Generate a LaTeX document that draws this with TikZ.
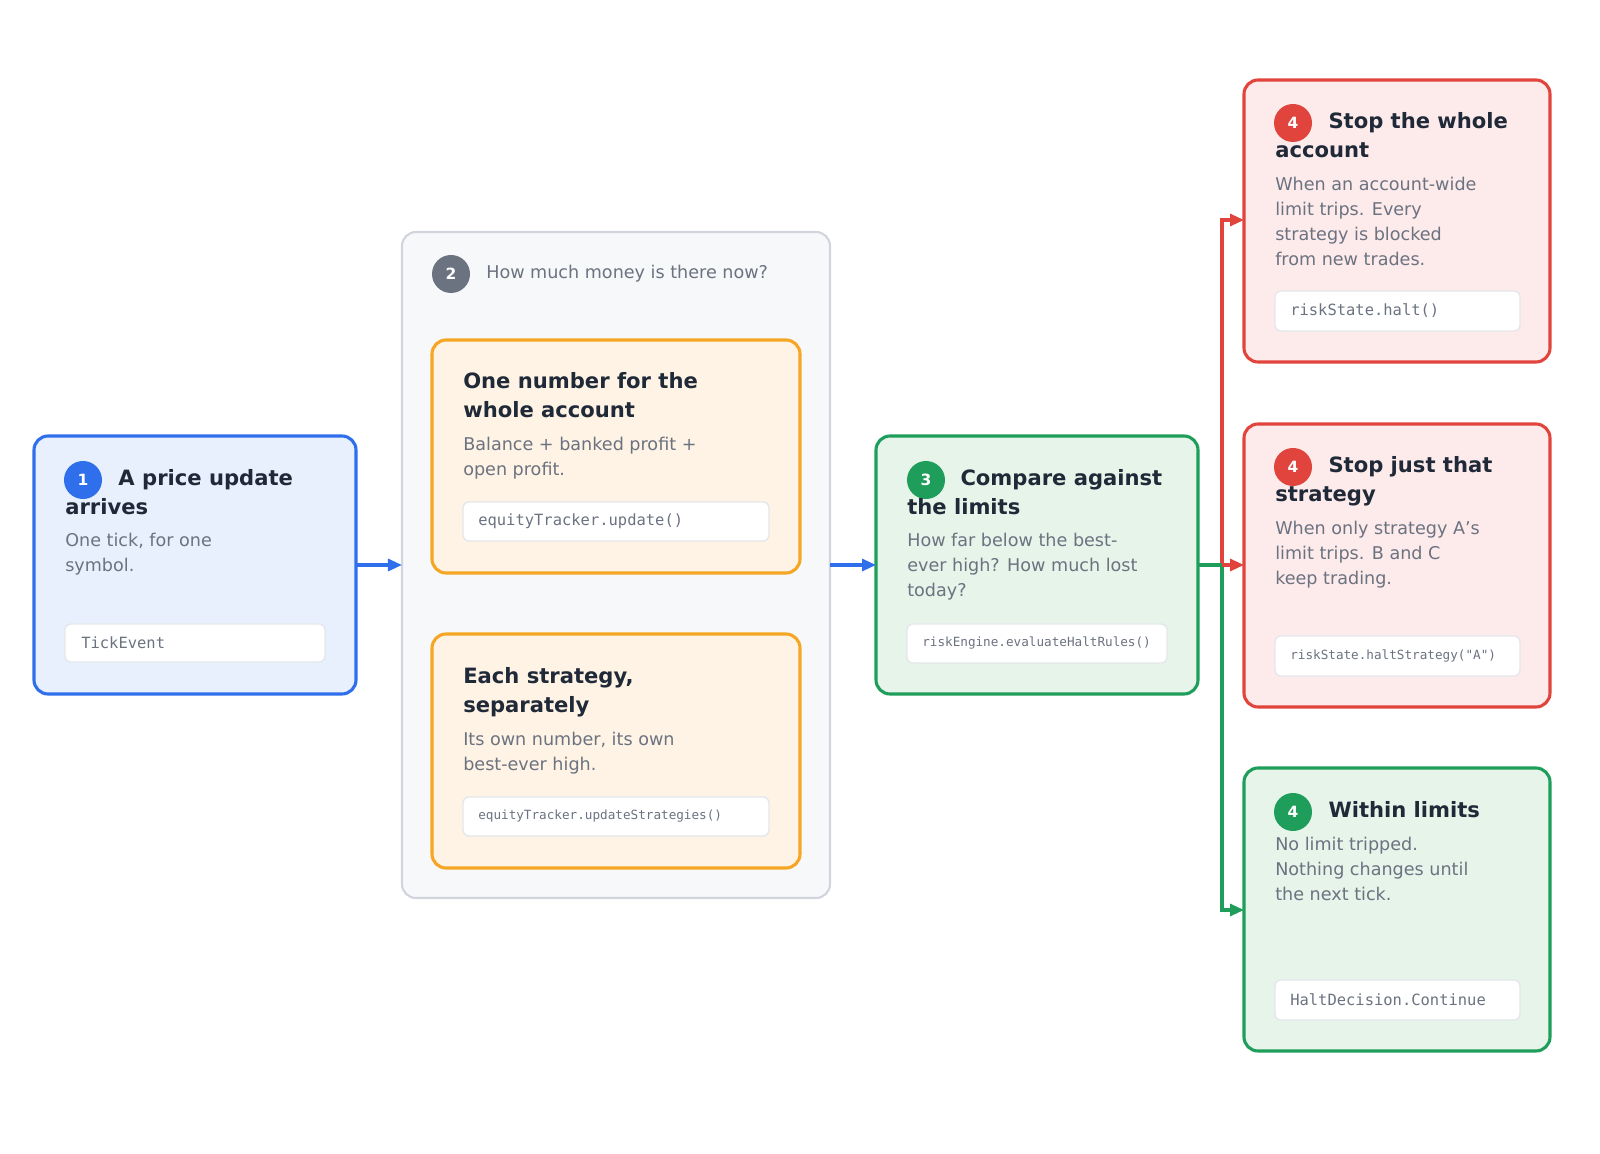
\documentclass[tikz,border=0pt]{standalone}
\usepackage{fontspec}
\setmainfont{DejaVu Sans}
\setmonofont{DejaVu Sans Mono}
\usetikzlibrary{arrows.meta}
\definecolor{tickblue}{HTML}{2F6FEB}
\definecolor{tickfill}{HTML}{E8F0FD}
\definecolor{eqorange}{HTML}{F5A623}
\definecolor{eqfill}{HTML}{FEF3E5}
\definecolor{okgreen}{HTML}{1E9E5A}
\definecolor{okfill}{HTML}{E6F4EA}
\definecolor{haltred}{HTML}{E0443C}
\definecolor{haltfill}{HTML}{FDEAEA}
\definecolor{panelfill}{HTML}{F7F8FA}
\definecolor{panelline}{HTML}{D1D5DB}
\definecolor{mutedgray}{HTML}{6B7280}
\definecolor{inkdark}{HTML}{1F2937}
\definecolor{codeline}{HTML}{E5E7EB}
\tikzset{
  card/.style={line width=2.2pt, rounded corners=0.35cm},
  codebox/.style={fill=white, draw=codeline, line width=1pt, rounded corners=0.15cm},
  badge/.style={circle, fill=#1, text=white, minimum size=0.95cm, inner sep=0pt, font=\bfseries\fontsize{11}{11}\selectfont},
  title/.style={anchor=north west, inner sep=0pt, align=left, text=inkdark, font=\bfseries\fontsize{15}{20.5}\selectfont},
  desc/.style={anchor=north west, inner sep=0pt, align=left, text=mutedgray, font=\fontsize{12.5}{17.7}\selectfont},
  code/.style={anchor=west, inner sep=0pt, text=mutedgray, font=\ttfamily\fontsize{11}{11}\selectfont},
  smallcode/.style={code, font=\ttfamily\fontsize{9}{9}\selectfont},
  flow/.style={-{Triangle[length=0.35cm,width=0.3cm]}, line width=2.2pt},
}
\begin{document}
\begin{tikzpicture}[x=0.025cm,y=-0.025cm]
  \useasboundingbox (0,0) rectangle (1600,1154);

  % 1 tick
  \draw[card, draw=tickblue, fill=tickfill] (34,436) rectangle (356,694);
  \node[badge=tickblue] (b1) at (83,480) {1};
  \node[title] (t1) at (65,469) {\hspace*{1.33cm}A price update\\arrives};
  \node[desc] (d1) at (65,533) {One tick, for one\\symbol.};
  \draw[codebox] (65,624) rectangle (325,662);
  \node[code] (c1) at (81,643) {TickEvent};

  % 2 equity panel
  \draw[line width=1.5pt, rounded corners=0.35cm, draw=panelline, fill=panelfill] (402,232) rectangle (830,898);
  \node[badge=mutedgray] (b2) at (451,274) {2};
  \node[desc, anchor=west] (t2) at (486,274) {How much money is there now?};

  \draw[card, draw=eqorange, fill=eqfill] (432,340) rectangle (800,573);
  \node[title] (t2a) at (463,372) {One number for the\\whole account};
  \node[desc] (d2a) at (463,437) {Balance + banked profit +\\open profit.};
  \draw[codebox] (463,502) rectangle (769,541);
  \node[code] (c2a) at (478,521) {equityTracker.update()};

  \draw[card, draw=eqorange, fill=eqfill] (432,634) rectangle (800,868);
  \node[title] (t2b) at (463,667) {Each strategy,\\separately};
  \node[desc] (d2b) at (463,732) {Its own number, its own\\best-ever high.};
  \draw[codebox] (463,797) rectangle (769,836);
  \node[smallcode] (c2b) at (478,816) {equityTracker.updateStrategies()};

  % 3 compare
  \draw[card, draw=okgreen, fill=okfill] (876,436) rectangle (1198,694);
  \node[badge=okgreen] (b3) at (926,480) {3};
  \node[title] (t3) at (907,469) {\hspace*{1.33cm}Compare against\\the limits};
  \node[desc] (d3) at (907,533) {How far below the best-\\ever high? How much lost\\today?};
  \draw[codebox] (907,624) rectangle (1167,663);
  \node[smallcode] (c3) at (922,643) {riskEngine.evaluateHaltRules()};

  % 4 outcomes
  \draw[card, draw=haltred, fill=haltfill] (1244,80) rectangle (1550,362);
  \node[badge=haltred] (b4a) at (1293,123) {4};
  \node[title] (t4a) at (1275,112) {\hspace*{1.33cm}Stop the whole\\account};
  \node[desc] (d4a) at (1275,177) {When an account-wide\\limit trips. Every\\strategy is blocked\\from new trades.};
  \draw[codebox] (1275,291) rectangle (1520,331);
  \node[code] (c4a) at (1290,311) {riskState.halt()};

  \draw[card, draw=haltred, fill=haltfill] (1244,424) rectangle (1550,707);
  \node[badge=haltred] (b4b) at (1293,467) {4};
  \node[title] (t4b) at (1275,456) {\hspace*{1.33cm}Stop just that\\strategy};
  \node[desc] (d4b) at (1275,521) {When only strategy A's\\limit trips. B and C\\keep trading.};
  \draw[codebox] (1275,636) rectangle (1520,676);
  \node[smallcode] (c4b) at (1290,656) {riskState.haltStrategy("A")};

  \draw[card, draw=okgreen, fill=okfill] (1244,768) rectangle (1550,1051);
  \node[badge=okgreen] (b4c) at (1293,812) {4};
  \node[title] (t4c) at (1275,801) {\hspace*{1.33cm}Within limits};
  \node[desc] (d4c) at (1275,837) {No limit tripped.\\Nothing changes until\\the next tick.};
  \draw[codebox] (1275,980) rectangle (1520,1020);
  \node[code] (c4c) at (1290,1000) {HaltDecision.Continue};

  % connectors
  \coordinate (tickR) at (356,565);
  \coordinate (panelL) at (402,565);
  \coordinate (panelR) at (830,565);
  \coordinate (cmpL) at (876,565);
  \coordinate (cmpR) at (1198,565);
  \coordinate (fork) at (1222,565);
  \coordinate (allL) at (1244,220);
  \coordinate (oneL) at (1244,565);
  \coordinate (okL) at (1244,910);
  \draw[flow, tickblue] (tickR) -- (panelL);
  \draw[flow, tickblue] (panelR) -- (cmpL);
  \draw[flow, haltred] (fork) |- (allL);
  \draw[flow, okgreen] (fork) |- (okL);
  \draw[line width=2.2pt, okgreen] (cmpR) -- (fork);
  \draw[flow, haltred] (fork) -- (oneL);
\end{tikzpicture}
\end{document}
